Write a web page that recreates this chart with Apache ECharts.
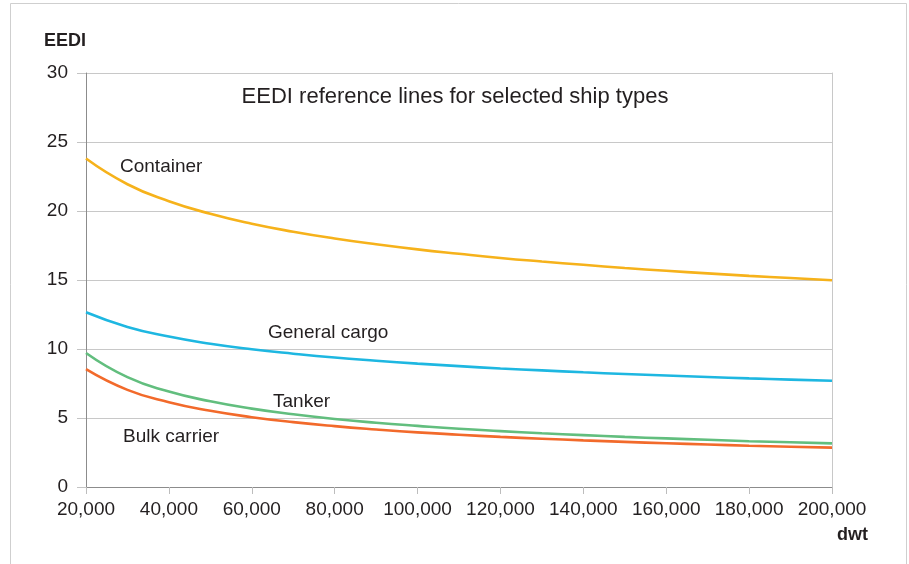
<!DOCTYPE html>
<html>
<head>
<meta charset="utf-8">
<script src="https://cdn.jsdelivr.net/npm/echarts@6/dist/echarts.min.js"></script>
<style>
  html, body { margin: 0; padding: 0; background: #fff; }
  #main { width: 909px; height: 564px; }
</style>
</head>
<body>
<div id="main"></div>
<script>
// dwt values along the x axis
var dwt = [20000, 30000, 40000, 50000, 60000, 70000, 80000, 90000, 100000, 110000,
	120000, 130000, 140000, 150000, 160000, 170000, 180000, 190000, 200000];
// EEDI reference line values
var container = [23.80, 21.94, 20.71, 19.80, 19.08, 18.50, 18.01, 17.59, 17.22, 16.90,
	16.60, 16.34, 16.10, 15.87, 15.67, 15.48, 15.30, 15.14, 14.98];
var generalCargo = [12.66, 11.60, 10.90, 10.38, 9.98, 9.66, 9.38, 9.15, 8.94, 8.76,
	8.59, 8.45, 8.31, 8.19, 8.08, 7.97, 7.87, 7.78, 7.70];
var tanker = [9.71, 7.96, 6.92, 6.21, 5.68, 5.27, 4.93, 4.66, 4.43, 4.22,
	4.05, 3.89, 3.76, 3.63, 3.52, 3.42, 3.32, 3.24, 3.16];
var bulkCarrier = [8.54, 7.04, 6.14, 5.52, 5.06, 4.70, 4.41, 4.17, 3.96, 3.79,
	3.63, 3.50, 3.38, 3.27, 3.17, 3.08, 2.99, 2.92, 2.85];

var seriesNames = ['Container', 'General cargo', 'Tanker', 'Bulk carrier'];
var seriesColors = ['#F6B21B', '#1EB7E1', '#62BE7E', '#F26A2B'];
var FONT = '"Liberation Sans", Arial, Helvetica, sans-serif';

function pairs(vals) {
	var res = [];
	for (var i = 0; i < dwt.length; i++) {
		res.push([dwt[i], vals[i]]);
	}
	return res;
}

var chart = echarts.init(document.getElementById('main'));

var allData = [container, generalCargo, tanker, bulkCarrier];
var series = [];
for (var i = 0; i < allData.length; i++) {
	series.push({
		name: seriesNames[i],
		type: 'line',
		smooth: true,
		symbol: 'none',
		lineStyle: { color: seriesColors[i], width: 2.6 },
		data: pairs(allData[i])
	});
}

function label(text, x, y, opts) {
	var t = {
		type: 'text',
		x: x,
		y: y,
		style: {
			text: text,
			fill: '#231f20',
			font: '19px ' + FONT,
			textVerticalAlign: 'middle'
		}
	};
	if (opts) {
		for (var k in opts) t.style[k] = opts[k];
	}
	return t;
}

var option = {
	animation: false,
	grid: { left: 86, right: 77, top: 73, bottom: 77 },
	xAxis: {
		type: 'value',
		min: 20000,
		max: 200000,
		interval: 20000,
		axisLine: { show: true, lineStyle: { color: '#8c8c8c', width: 1 } },
		axisTick: { show: true, length: 7, lineStyle: { color: '#bdbdbd' } },
		axisLabel: {
			margin: 13,
			fontSize: 19,
			fontFamily: FONT,
			color: '#231f20',
			formatter: function (v) { return v.toLocaleString('en-US'); }
		},
		splitLine: { show: false }
	},
	yAxis: [{
		type: 'value',
		min: 0,
		max: 30,
		interval: 5,
		axisLine: { show: true, lineStyle: { color: '#8c8c8c', width: 1 } },
		axisTick: { show: true, length: 9, lineStyle: { color: '#c4c4c4' } },
		axisLabel: {
			margin: 18,
			fontSize: 19,
			fontFamily: FONT,
			color: '#231f20'
		},
		splitLine: { show: true, lineStyle: { color: '#c8c8c8', width: 1 } }
	}, {
		type: 'value',
		position: 'right',
		min: 0,
		max: 30,
		axisLine: { show: true, lineStyle: { color: '#c8c8c8', width: 1 } },
		axisTick: { show: false },
		axisLabel: { show: false },
		splitLine: { show: false }
	}],
	graphic: [
		{
			type: 'rect',
			shape: { x: 10.5, y: 3.5, width: 896, height: 620 },
			style: { fill: 'none', stroke: '#cfcfcf', lineWidth: 1 },
			z: -1
		},
		label('EEDI reference lines for selected ship types', 455, 97,
			{ font: '22px ' + FONT, textAlign: 'center' }),
		label('EEDI', 44, 41, { font: 'bold 18px ' + FONT }),
		label('dwt', 868, 535, { font: 'bold 18px ' + FONT, textAlign: 'right' }),
		label('Container', 120, 167),
		label('General cargo', 268, 333),
		label('Tanker', 273, 402),
		label('Bulk carrier', 123, 437)
	],
	series: series
};

chart.setOption(option);
</script>
</body>
</html>
